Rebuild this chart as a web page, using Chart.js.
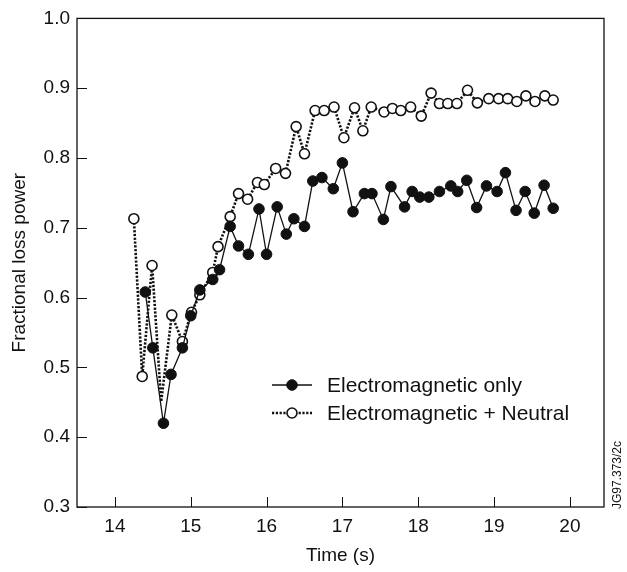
<!DOCTYPE html>
<html>
<head>
<meta charset="utf-8">
<script src="https://cdn.jsdelivr.net/npm/chart.js@4/dist/chart.umd.min.js"></script>
<style>
  html, body { margin: 0; padding: 0; background: #fff; }
  #wrap { width: 627px; height: 572px; position: relative; }
</style>
</head>
<body>
<div id="wrap"><canvas id="lossChart" width="627" height="572"></canvas></div>
<script>
// time (s) and fractional loss power, electromagnetic only
const timeEM = [14.40, 14.50, 14.64, 14.74, 14.89, 15.00, 15.12, 15.29, 15.38, 15.52, 15.63, 15.76, 15.90, 16.00, 16.14,
  16.26, 16.36, 16.50, 16.61, 16.73, 16.88, 17.00, 17.14, 17.29, 17.39, 17.54, 17.64, 17.82, 17.92, 18.02, 18.14,
  18.28, 18.43, 18.52, 18.64, 18.77, 18.90, 19.04, 19.15, 19.29, 19.41, 19.53, 19.66, 19.78];
const lossEM = [0.608, 0.528, 0.420, 0.490, 0.528, 0.574, 0.611, 0.626, 0.640, 0.702, 0.674, 0.662, 0.727, 0.662, 0.730,
  0.691, 0.713, 0.702, 0.767, 0.772, 0.756, 0.793, 0.723, 0.749, 0.749, 0.712, 0.759, 0.730, 0.752, 0.744, 0.744,
  0.752, 0.760, 0.752, 0.768, 0.729, 0.760, 0.752, 0.779, 0.725, 0.752, 0.721, 0.761, 0.728];

// electromagnetic + neutral
const timeEMN = [14.25, 14.36, 14.49, 14.61, 14.75, 14.89, 15.01, 15.12, 15.29, 15.36, 15.52, 15.63, 15.75, 15.88, 15.97,
  16.12, 16.25, 16.39, 16.50, 16.64, 16.76, 16.89, 17.02, 17.16, 17.27, 17.38, 17.55, 17.66, 17.77, 17.90, 18.04,
  18.17, 18.28, 18.39, 18.51, 18.65, 18.78, 18.93, 19.06, 19.18, 19.30, 19.42, 19.54, 19.67, 19.78];
const lossEMN = [0.713, 0.487, 0.646, 0.451, 0.575, 0.537, 0.579, 0.604, 0.636, 0.673, 0.716, 0.749, 0.741, 0.765, 0.762,
  0.785, 0.778, 0.845, 0.806, 0.868, 0.868, 0.873, 0.829, 0.872, 0.839, 0.873, 0.866, 0.871, 0.868, 0.873, 0.860,
  0.893, 0.878, 0.878, 0.878, 0.897, 0.879, 0.885, 0.885, 0.885, 0.881, 0.889, 0.881, 0.889, 0.883];
const emnNoMarker = [3]; // point drawn without a circle

const xTicks = [14, 15, 16, 17, 18, 19, 20];
const yTicks = [0.3, 0.4, 0.5, 0.6, 0.7, 0.8, 0.9, 1.0];
const seriesNames = ['Electromagnetic only', 'Electromagnetic + Neutral'];

const FONT = 'Liberation Sans, Arial, Helvetica, sans-serif';
const INK = '#111';

// frame, inward ticks, legend and figure code
const framePlugin = {
  id: 'frame',
  afterDraw(chart) {
    const ctx = chart.ctx;
    const a = chart.chartArea;
    const xs = chart.scales.x, ys = chart.scales.y;
    ctx.save();
    ctx.strokeStyle = INK;
    ctx.lineWidth = 1.3;
    ctx.strokeRect(a.left, a.top, a.right - a.left, a.bottom - a.top);
    ctx.lineWidth = 1;
    ctx.beginPath();
    xTicks.forEach(v => {
      const px = Math.round(xs.getPixelForValue(v)) + 0.5;
      ctx.moveTo(px, a.bottom);
      ctx.lineTo(px, a.bottom - 10);
    });
    yTicks.forEach(v => {
      const py = Math.round(ys.getPixelForValue(v)) + 0.5;
      ctx.moveTo(a.left, py);
      ctx.lineTo(a.left + 10, py);
    });
    ctx.stroke();

    // legend
    const rows = [385, 413];
    const lx0 = 272, lx1 = 312, mx = 292;
    ctx.font = '21px ' + FONT;
    ctx.fillStyle = INK;
    ctx.textBaseline = 'middle';
    chart.data.datasets.forEach((ds, i) => {
      const y = rows[i];
      ctx.save();
      ctx.strokeStyle = INK;
      ctx.lineWidth = ds.borderWidth;
      ctx.setLineDash(ds.borderDash || []);
      ctx.beginPath();
      ctx.moveTo(lx0, y);
      ctx.lineTo(lx1, y);
      ctx.stroke();
      ctx.setLineDash([]);
      ctx.beginPath();
      ctx.arc(mx, y, ds.legendRadius, 0, Math.PI * 2);
      ctx.fillStyle = ds.pointBackgroundColor;
      ctx.fill();
      ctx.lineWidth = ds.pointBorderWidth;
      ctx.strokeStyle = INK;
      ctx.stroke();
      ctx.restore();
      ctx.fillText(seriesNames[i], 327, y + 1);
    });

    // figure code along the right edge
    ctx.save();
    ctx.translate(618, 475);
    ctx.rotate(-Math.PI / 2);
    ctx.font = '12px ' + FONT;
    ctx.textAlign = 'center';
    ctx.fillText('JG97.373/2c', 0, 0);
    ctx.restore();
    ctx.restore();
  }
};

const ctx = document.getElementById('lossChart').getContext('2d');
new Chart(ctx, {
  type: 'line',
  data: {
    datasets: [
      {
        label: seriesNames[0],
        data: timeEM.map((t, i) => ({ x: t, y: lossEM[i] })),
        borderColor: INK,
        borderWidth: 1.3,
        pointRadius: 5.3,
        legendRadius: 5.3,
        pointBackgroundColor: INK,
        pointBorderColor: INK,
        pointBorderWidth: 1,
        tension: 0,
        order: 0
      },
      {
        label: seriesNames[1],
        data: timeEMN.map((t, i) => ({ x: t, y: lossEMN[i] })),
        borderColor: INK,
        borderWidth: 2.6,
        borderDash: [2.2, 1.6],
        pointRadius: c => emnNoMarker.includes(c.dataIndex) ? 0 : 5,
        legendRadius: 5,
        pointBackgroundColor: '#fff',
        pointBorderColor: INK,
        pointBorderWidth: 1.6,
        tension: 0,
        order: 1
      }
    ]
  },
  options: {
    responsive: false,
    animation: false,
    events: [],
    layout: { padding: { top: 12, right: 23, left: 0, bottom: 0 } },
    plugins: {
      legend: { display: false },
      tooltip: { enabled: false }
    },
    scales: {
      x: {
        type: 'linear',
        min: 13.5,
        max: 20.45,
        afterBuildTicks: s => { s.ticks = xTicks.map(v => ({ value: v })); },
        afterFit: s => { s.height = 65; },
        grid: { display: false, drawTicks: false },
        border: { display: false },
        ticks: { color: INK, font: { family: FONT, size: 19 }, padding: 8, maxRotation: 0 },
        title: { display: true, text: 'Time (s)', color: INK, font: { family: FONT, size: 19 }, padding: { bottom: 5 } }
      },
      y: {
        type: 'linear',
        min: 0.3,
        max: 1.0,
        afterBuildTicks: s => { s.ticks = yTicks.map(v => ({ value: v })); },
        afterFit: s => { s.width = 77; },
        grid: { display: false, drawTicks: false },
        border: { display: false },
        ticks: { color: INK, font: { family: FONT, size: 19 }, padding: 7, callback: v => v.toFixed(1) },
        title: { display: true, text: 'Fractional loss power', color: INK, font: { family: FONT, size: 19 }, padding: { top: 8 } }
      }
    }
  },
  plugins: [framePlugin]
});
</script>
</body>
</html>
